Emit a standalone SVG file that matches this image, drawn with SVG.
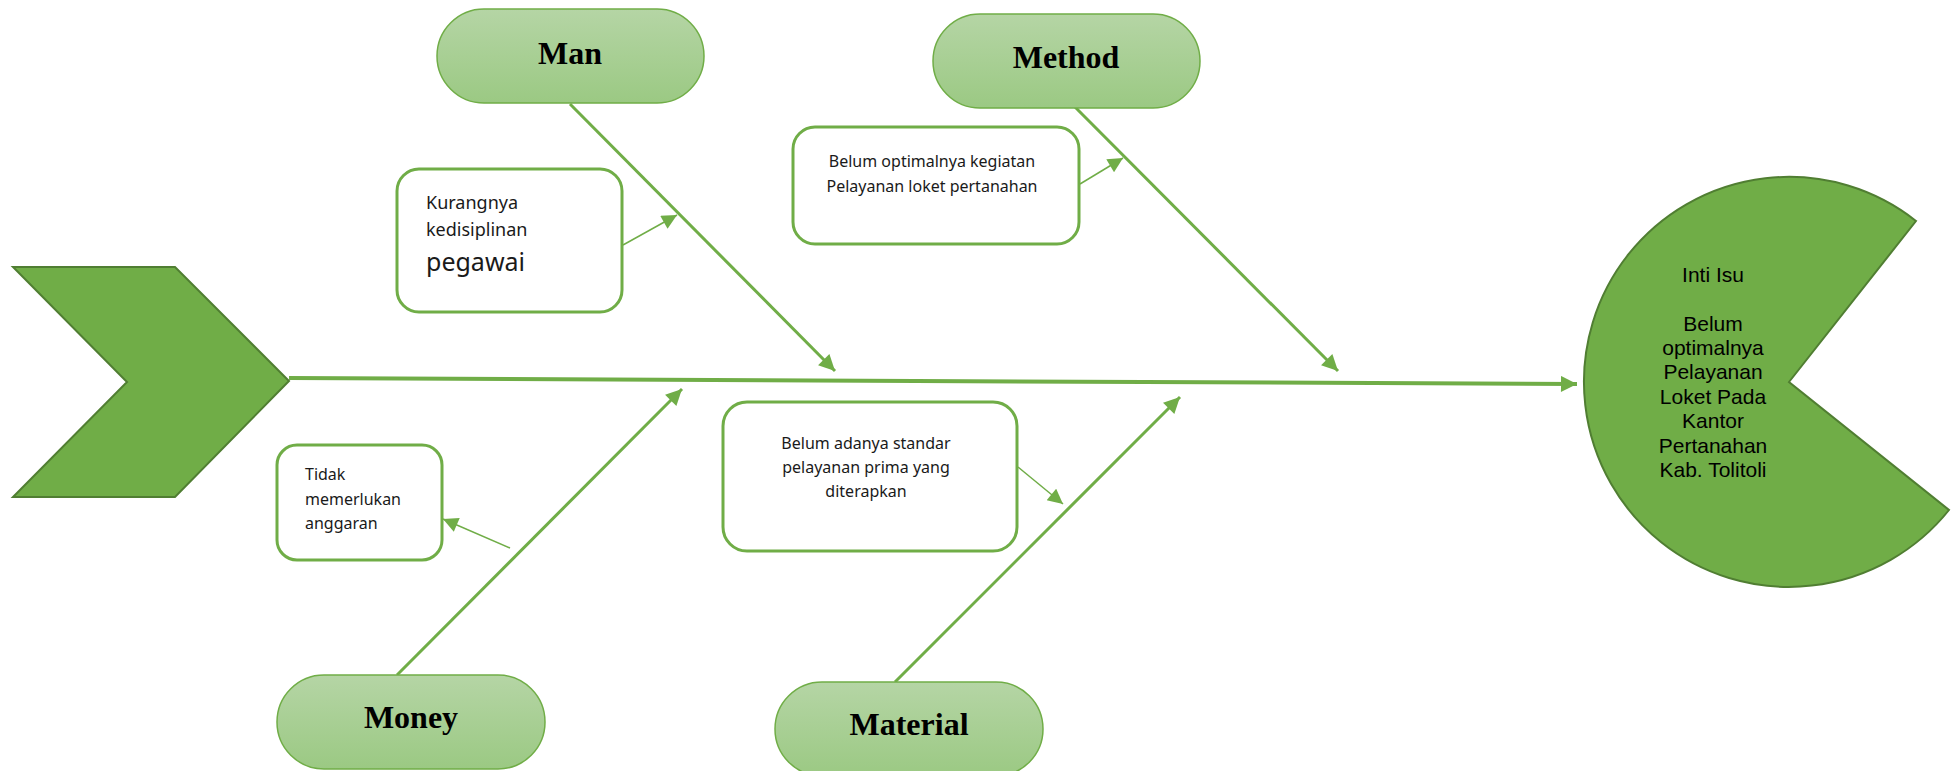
<svg xmlns="http://www.w3.org/2000/svg" width="1959" height="771" viewBox="0 0 1959 771">
<style>
.pill{stroke:#70AD47;stroke-width:1.5;fill:url(#pg)}
.ptxt{font-family:"Liberation Serif","Times New Roman",serif;font-weight:bold;font-size:32px;fill:#000;text-anchor:middle}
.box{fill:#fff;stroke:#70AD47;stroke-width:3}
.btxt{font-family:"Noto Sans","Open Sans",sans-serif;font-size:16px;fill:#1a1a1a}
.main{stroke:#70AD47;stroke-width:3;fill:none}
.small{stroke:#70AD47;stroke-width:1.5;fill:none}
.shape{fill:#70AD47;stroke:#507E32;stroke-width:2}
.itxt{font-family:"Liberation Sans",Arial,sans-serif;font-size:21px;fill:#000;text-anchor:middle}
</style>
<defs>
<linearGradient id="pg" x1="0" y1="0" x2="0" y2="1">
<stop offset="0" stop-color="#b5d5a5"/>
<stop offset="1" stop-color="#9bc983"/>
</linearGradient>
<marker id="ah" viewBox="0 0 10 10" refX="10" refY="5" markerUnits="userSpaceOnUse" markerWidth="21" markerHeight="16" orient="auto">
<path d="M0,0 L10,5 L0,10 z" fill="#70AD47"/>
</marker>
<marker id="ahs" viewBox="0 0 10 10" refX="10" refY="5" markerUnits="userSpaceOnUse" markerWidth="19" markerHeight="15" orient="auto">
<path d="M0,0 L10,5 L0,10 z" fill="#70AD47"/>
</marker>
</defs>
<rect width="1959" height="771" fill="#fff"/>

<g id="head-chevron">
<path class="shape" d="M13,267 L175,267 L289,381 L175,497 L13,497 L127,382 Z"/>
</g>

<g id="inti-isu">
<path class="shape" d="M1789,382 L1916,221 A205,205 0 1,0 1949,510 Z"/>
<text class="itxt" x="1713" y="282">Inti Isu</text>
<text class="itxt" x="1713" y="331">Belum</text>
<text class="itxt" x="1713" y="355">optimalnya</text>
<text class="itxt" x="1713" y="379">Pelayanan</text>
<text class="itxt" x="1713" y="404">Loket Pada</text>
<text class="itxt" x="1713" y="428">Kantor</text>
<text class="itxt" x="1713" y="453">Pertanahan</text>
<text class="itxt" x="1713" y="477">Kab. Tolitoli</text>
</g>

<g id="connectors">
<line x1="289" y1="378" x2="1577" y2="384" stroke="#70AD47" stroke-width="4" marker-end="url(#ah)"/>
<line class="main" x1="570" y1="104" x2="835" y2="371" marker-end="url(#ah)"/>
<line class="main" x1="1072" y1="104" x2="1338" y2="371" marker-end="url(#ah)"/>
<line class="main" x1="397" y1="675" x2="682" y2="389" marker-end="url(#ah)"/>
<line class="main" x1="895" y1="682" x2="1180" y2="397" marker-end="url(#ah)"/>
<line class="small" x1="623" y1="245" x2="677" y2="215" marker-end="url(#ahs)"/>
<line class="small" x1="1080" y1="184" x2="1123" y2="158" marker-end="url(#ahs)"/>
<line class="small" x1="510" y1="548" x2="443" y2="519" marker-end="url(#ahs)"/>
<line class="small" x1="1018" y1="467" x2="1063" y2="504" marker-end="url(#ahs)"/>
</g>

<g id="man">
<rect class="pill" x="437" y="9" width="267" height="94" rx="47"/>
<text class="ptxt" x="570" y="64">Man</text>
</g>
<g id="method">
<rect class="pill" x="933" y="14" width="267" height="94" rx="47"/>
<text class="ptxt" x="1066" y="68">Method</text>
</g>
<g id="money">
<rect class="pill" x="277" y="675" width="268" height="94" rx="47"/>
<text class="ptxt" x="411" y="728">Money</text>
</g>
<g id="material">
<rect class="pill" x="775" y="682" width="268" height="94" rx="47"/>
<text class="ptxt" x="909" y="735">Material</text>
</g>

<g id="cause-kurangnya">
<rect class="box" x="397" y="169" width="225" height="143" rx="22"/>
<text class="btxt" x="426" y="209" style="font-size:18px">Kurangnya</text>
<text class="btxt" x="426" y="236" style="font-size:18px">kedisiplinan</text>
<text class="btxt" x="426" y="271" style="font-size:25px">pegawai</text>
</g>
<g id="cause-kegiatan">
<rect class="box" x="793" y="127" width="286" height="117" rx="22"/>
<text class="btxt" x="932" y="167" text-anchor="middle">Belum optimalnya kegiatan</text>
<text class="btxt" x="932" y="192" text-anchor="middle">Pelayanan loket pertanahan</text>
</g>
<g id="cause-anggaran">
<rect class="box" x="277" y="445" width="165" height="115" rx="20"/>
<text class="btxt" x="305" y="480">Tidak</text>
<text class="btxt" x="305" y="505">memerlukan</text>
<text class="btxt" x="305" y="529">anggaran</text>
</g>
<g id="cause-standar">
<rect class="box" x="723" y="402" width="294" height="149" rx="24"/>
<text class="btxt" x="866" y="449" text-anchor="middle">Belum adanya standar</text>
<text class="btxt" x="866" y="473" text-anchor="middle">pelayanan prima yang</text>
<text class="btxt" x="866" y="497" text-anchor="middle">diterapkan</text>
</g>
</svg>
